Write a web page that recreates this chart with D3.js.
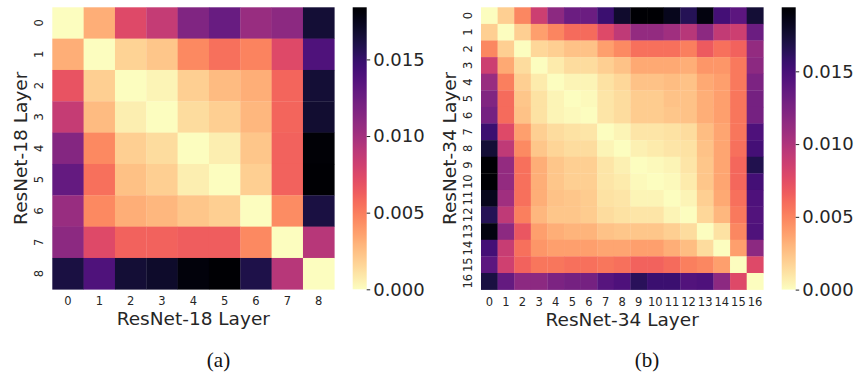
<!DOCTYPE html>
<html>
<head>
<meta charset="utf-8">
<script src="https://cdn.jsdelivr.net/npm/d3@7/dist/d3.min.js"></script>
<style>
  html, body { margin: 0; padding: 0; background: #ffffff; }
  svg { display: block; }
</style>
</head>
<body>
<svg id="fig" width="857" height="373"></svg>
<script>
// Pairwise layer distances, stored in thousandths (x 1e-3).
const UNIT = 1e-3;

const resnet18Layers = ["0", "1", "2", "3", "4", "5", "6", "7", "8"];
const resnet18Dist = [
  [0.0, 3.1, 7.4, 8.6, 11.6, 12.7, 10.5, 11.0, 16.6],
  [3.1, 0.0, 1.7, 2.2, 4.6, 5.5, 4.8, 7.4, 13.8],
  [6.8, 1.8, 0.0, 0.4, 1.8, 2.6, 3.1, 5.9, 16.6],
  [8.5, 2.6, 0.6, 0.0, 1.3, 1.8, 2.8, 5.9, 16.7],
  [11.4, 4.6, 1.8, 1.3, 0.0, 0.6, 2.2, 6.1, 18.2],
  [12.9, 5.5, 2.4, 1.8, 0.6, 0.0, 1.8, 6.1, 18.4],
  [10.5, 4.6, 3.1, 2.8, 2.2, 1.8, 0.0, 4.4, 16.2],
  [11.0, 7.4, 6.1, 6.1, 6.3, 6.3, 4.6, 0.0, 9.2],
  [16.2, 13.8, 16.6, 16.9, 18.0, 18.4, 16.0, 9.2, 0.0]
];

const resnet34Layers = ["0", "1", "2", "3", "4", "5", "6", "7", "8", "9", "10", "11", "12", "13", "14", "15", "16"];
const resnet34Dist = [
  [0.0, 1.9, 4.9, 8.7, 11.6, 13.2, 13.2, 15.5, 17.8, 19.4, 19.4, 18.4, 16.5, 18.8, 15.1, 14.0, 17.5],
  [1.9, 0.0, 1.9, 3.9, 5.0, 6.0, 6.0, 7.8, 9.3, 11.3, 11.3, 10.7, 9.7, 11.6, 9.1, 8.7, 13.2],
  [4.9, 1.9, 0.0, 1.6, 1.9, 2.5, 2.5, 3.9, 4.7, 5.8, 5.8, 5.8, 5.2, 6.8, 5.8, 6.4, 11.3],
  [8.7, 3.5, 1.4, 0.0, 0.8, 1.4, 1.4, 1.9, 2.5, 3.5, 3.5, 3.5, 3.3, 4.3, 4.3, 5.4, 11.6],
  [11.1, 5.2, 1.9, 0.8, 0.0, 0.4, 0.4, 1.2, 1.6, 2.5, 2.5, 2.7, 2.5, 3.5, 3.9, 5.4, 12.4],
  [12.2, 6.0, 2.3, 1.2, 0.4, 0.0, 0.2, 1.0, 1.4, 2.1, 2.1, 2.5, 2.5, 3.3, 3.9, 5.6, 12.8],
  [12.8, 6.0, 2.5, 1.2, 0.4, 0.2, 0.0, 1.0, 1.4, 2.1, 2.1, 2.3, 2.5, 3.3, 3.9, 5.6, 12.8],
  [15.5, 7.8, 3.9, 1.9, 1.4, 1.2, 1.0, 0.0, 0.4, 1.0, 1.0, 1.2, 1.4, 2.7, 3.7, 5.6, 14.7],
  [17.5, 9.3, 4.7, 2.3, 1.7, 1.4, 1.4, 0.4, 0.0, 0.6, 0.8, 1.0, 1.2, 2.5, 3.7, 5.8, 15.1],
  [19.4, 11.3, 5.8, 3.3, 2.3, 1.9, 1.9, 1.0, 0.6, 0.0, 0.2, 0.4, 1.0, 2.3, 3.7, 6.2, 16.7],
  [19.4, 11.3, 5.8, 3.3, 2.3, 1.9, 1.9, 1.0, 0.8, 0.2, 0.0, 0.2, 0.8, 2.3, 3.7, 6.2, 15.1],
  [18.4, 10.7, 5.8, 3.3, 2.5, 2.3, 2.1, 1.2, 1.0, 0.4, 0.4, 0.0, 0.4, 1.9, 3.5, 5.8, 14.7],
  [16.5, 9.3, 5.2, 2.9, 2.3, 2.3, 2.1, 1.4, 1.2, 1.0, 1.0, 0.4, 0.0, 1.6, 2.9, 5.4, 14.4],
  [18.8, 11.6, 7.0, 3.9, 3.3, 3.1, 3.1, 2.5, 2.3, 2.3, 2.3, 1.9, 1.4, 0.0, 1.2, 4.9, 14.6],
  [15.1, 8.9, 5.8, 4.3, 3.9, 3.9, 3.9, 3.7, 3.7, 3.9, 3.9, 3.3, 2.7, 1.4, 0.0, 3.9, 11.6],
  [14.0, 8.5, 6.4, 5.6, 5.6, 5.8, 5.8, 5.6, 5.8, 6.4, 6.4, 6.0, 5.2, 4.9, 3.9, 0.0, 7.8],
  [17.1, 13.6, 11.6, 11.6, 12.4, 12.8, 12.8, 14.2, 14.7, 16.3, 15.5, 15.5, 14.4, 14.7, 11.6, 7.8, 0.0]
];

const colorbarTicks = [0.000, 0.005, 0.010, 0.015];

const panels = [
  { id: "a", layers: resnet18Layers, dist: resnet18Dist, label: "ResNet-18 Layer",
    x: 52.3, y: 7.3, size: 282, cbX: 352.7, caption: "(a)", captionX: 218.5 },
  { id: "b", layers: resnet34Layers, dist: resnet34Dist, label: "ResNet-34 Layer",
    x: 481, y: 7.3, size: 282.3, cbX: 781.7, caption: "(b)", captionX: 647 }
];

const svg = d3.select("#fig");
const textColor = "#262626";
const sans = "'DejaVu Sans', sans-serif";

panels.forEach(p => {
  const values = p.dist.map(row => row.map(v => v * UNIT));
  const vmax = d3.max(values.flat());
  const color = d3.scaleSequential(t => d3.interpolateMagma(1 - t)).domain([0, vmax]);

  const xs = d3.scaleBand().domain(p.layers).range([p.x, p.x + p.size]);
  const ys = d3.scaleBand().domain(p.layers).range([p.y, p.y + p.size]);

  const cells = [];
  values.forEach((row, i) => row.forEach((v, j) => cells.push({ r: p.layers[i], c: p.layers[j], v })));

  const g = svg.append("g").attr("class", "panel-" + p.id);
  g.selectAll("rect.cell").data(cells).join("rect")
    .attr("class", "cell")
    .attr("x", d => xs(d.c))
    .attr("y", d => ys(d.r))
    .attr("width", xs.bandwidth() + 0.3)
    .attr("height", ys.bandwidth() + 0.3)
    .attr("fill", d => color(d.v));

  // x axis tick labels
  const xAxis = d3.axisBottom(xs).tickSize(0).tickPadding(0);
  const gx = g.append("g").attr("transform", `translate(0,${p.y + p.size})`).call(xAxis);
  gx.select(".domain").remove();
  gx.selectAll("text")
    .attr("y", 16)
    .attr("dy", null)
    .attr("font-family", sans).attr("font-size", 11.5).attr("fill", textColor);

  // y axis tick labels, set vertically
  const yAxis = d3.axisLeft(ys).tickSize(0).tickPadding(0);
  const gy = g.append("g").attr("transform", `translate(${p.x},0)`).call(yAxis);
  gy.select(".domain").remove();
  gy.selectAll("text")
    .attr("x", null).attr("dy", null)
    .attr("text-anchor", "middle")
    .attr("transform", "translate(-9,0) rotate(-90)")
    .attr("dy", 0)
    .attr("y", 0)
    .attr("font-family", sans).attr("font-size", 11.5).attr("fill", textColor);

  // axis titles
  g.append("text")
    .attr("x", p.x + p.size / 2).attr("y", p.y + p.size + 36)
    .attr("text-anchor", "middle")
    .attr("font-family", sans).attr("font-size", 18.5).attr("fill", textColor)
    .text(p.label);
  g.append("text")
    .attr("transform", `translate(${p.x - 25},${p.y + p.size / 2}) rotate(-90)`)
    .attr("text-anchor", "middle")
    .attr("font-family", sans).attr("font-size", 18.5).attr("fill", textColor)
    .text(p.label);

  // colorbar
  const cbW = 14;
  const gradId = "grad-" + p.id;
  const grad = svg.append("defs").append("linearGradient")
    .attr("id", gradId).attr("x1", 0).attr("y1", 1).attr("x2", 0).attr("y2", 0);
  d3.range(0, 1.0001, 0.02).forEach(t => {
    grad.append("stop").attr("offset", t).attr("stop-color", color(t * vmax));
  });
  g.append("rect")
    .attr("x", p.cbX).attr("y", p.y)
    .attr("width", cbW).attr("height", p.size)
    .attr("fill", `url(#${gradId})`);

  const cs = d3.scaleLinear().domain([0, vmax]).range([p.y + p.size, p.y]);
  const cAxis = d3.axisRight(cs).tickValues(colorbarTicks).tickFormat(d3.format(".3f"))
    .tickSize(3.5).tickPadding(3);
  const gc = g.append("g").attr("transform", `translate(${p.cbX + cbW},0)`).call(cAxis);
  gc.select(".domain").remove();
  gc.selectAll("line").attr("stroke", textColor).attr("stroke-width", 1);
  gc.selectAll("text")
    .attr("font-family", sans).attr("font-size", 18).attr("fill", textColor);

  // caption
  svg.append("text")
    .attr("x", p.captionX).attr("y", 367)
    .attr("text-anchor", "middle")
    .attr("font-family", "'Liberation Serif', 'Times New Roman', serif")
    .attr("font-size", 21).attr("fill", "#111")
    .text(p.caption);
});
</script>
</body>
</html>
